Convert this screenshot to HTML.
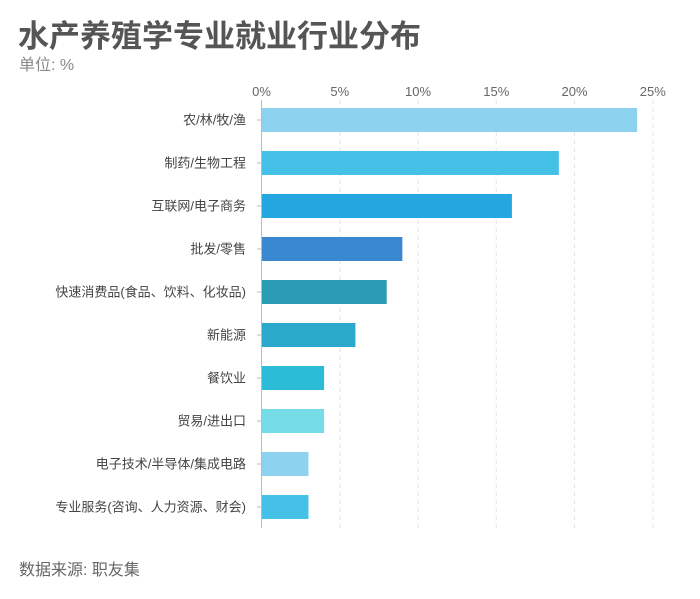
<!DOCTYPE html>
<html><head><meta charset="utf-8"><style>
body{margin:0;background:#fff;width:700px;height:594px;overflow:hidden;font-family:"Liberation Sans","Noto Sans CJK SC",sans-serif}
</style></head><body>
<svg width="700" height="594" xmlns="http://www.w3.org/2000/svg" font-family="Liberation Sans, Noto Sans CJK SC, sans-serif">
<text x="18" y="47" font-size="31" font-weight="bold" fill="#555">水产养殖学专业就业行业分布</text>
<text x="19" y="70" font-size="16" fill="#888">单位: %</text>
<text x="19" y="575" font-size="16" fill="#666">数据来源: 职友集</text>
<g id="grid"></g><g id="bars"></g><g id="labels"></g>
<line x1="261.5" y1="100" x2="261.5" y2="528" stroke="#bbb"/>
</svg>
<script>
const categories=["农/林/牧/渔","制药/生物工程","互联网/电子商务","批发/零售","快速消费品(食品、饮料、化妆品)","新能源","餐饮业","贸易/进出口","电子技术/半导体/集成电路","专业服务(咨询、人力资源、财会)"];
const values=[24,19,16,9,8,6,4,4,3,3];
const colors=["#8dd3f0","#45c1e8","#25a6e0","#3a88d0","#2a9cb4","#2aa9cb","#2bbcd8","#76dde8","#8dd3f0","#45c1e8"];
const ticks=[0,5,10,15,20,25];
const NS="http://www.w3.org/2000/svg";
const x=v=>261.5+v*15.65;
const yc=i=>120+i*43;
const g=document.getElementById('grid'),b=document.getElementById('bars'),l=document.getElementById('labels');
function mk(t,a){const e=document.createElementNS(NS,t);for(const k in a)e.setAttribute(k,a[k]);return e;}
ticks.forEach(t=>{
 if(t>0){const ln=mk('line',{x1:x(t),y1:100,x2:x(t),y2:528,stroke:'#e3e3e3','stroke-dasharray':'4,4'});
 
 g.appendChild(ln);}
 const tx=mk('text',{x:x(t),y:96,'font-size':13,fill:'#666','text-anchor':'middle'});tx.textContent=t+'%';
 
 g.appendChild(tx);
});
categories.forEach((c,i)=>{
 const r=mk('rect',{x:x(0),y:yc(i)-12,width:x(values[i])-x(0),height:24,fill:colors[i]});
 
 b.appendChild(r);
 const tk=mk('line',{x1:257,y1:yc(i),x2:261.5,y2:yc(i),stroke:'#bbb'});
 
 l.appendChild(tk);
 const t=mk('text',{x:246,y:yc(i)+4.5,'font-size':13,fill:'#444','text-anchor':'end'});t.textContent=c;
 
 l.appendChild(t);
});
</script>
</body></html>
